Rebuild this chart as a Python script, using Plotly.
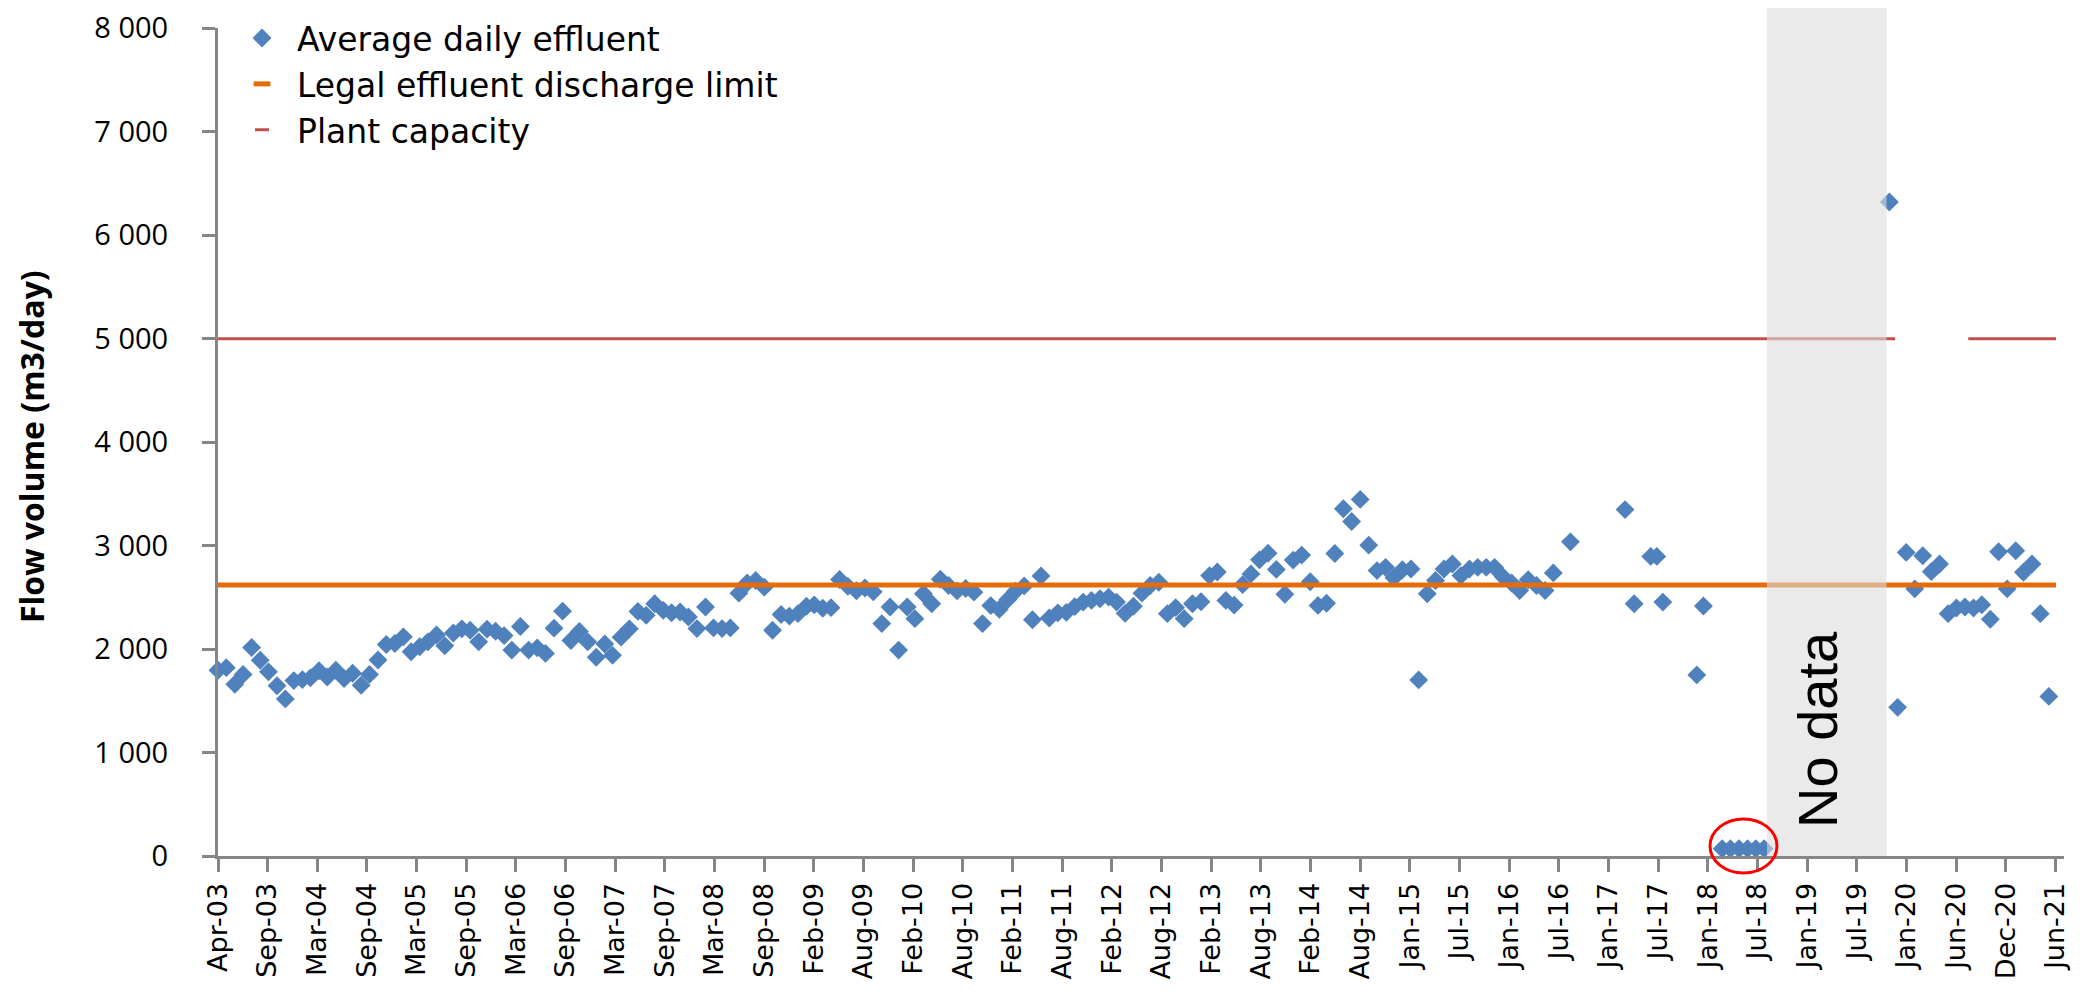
import plotly.graph_objects as go
import pandas as pd

# ---------------- data ----------------
# Monthly average daily effluent, Apr-2003 .. Sep-2016 (None = no point shown)
effluent_2003_2016 = [
    1795, 1820, 1660, 1755, 2015, 1892, 1780, 1645, 1518, 1695,
    1705, 1722, 1790, 1730, 1795, 1715, 1766, 1650, 1755, 1894,
    2044, 2054, 2118, 1974, 2022, 2070, 2137, 2032, 2155, 2195,
    2182, 2070, 2192, 2172, 2130, 1990, 2218, 1990, 2012, 1958,
    2202, 2366, 2083, 2170, 2070, 1921, 2049, 1939, 2115, 2195,
    2364, 2326, 2438, 2374, 2351, 2358, 2310, 2198, 2406, 2204,
    2198, 2204, 2540, 2638, 2662, 2598, 2182, 2334, 2318, 2342,
    2414, 2427, 2394, 2400, 2672, 2606, 2563, 2590, 2553, 2246,
    2406, 1990, 2406, 2294, 2534, 2438, 2675, 2614, 2562, 2585,
    2550, 2246, 2420, 2385, 2480, 2560, 2610, 2283, 2707, 2300,
    2350, 2355, 2410, 2454, 2470, 2486, 2502, 2454, 2345, 2414,
    2540, 2614, 2646, 2342, 2400, 2294, 2438, 2457, 2710, 2745,
    2470, 2425, 2622, 2726, 2862, 2926, 2770, 2530, 2860, 2908,
    2650, 2422, 2443, 2923, 3356, 3233, 3446, 3004, 2758, 2790,
    2690, 2766, 2774, 1702, 2534, 2662, 2774, 2822, 2710, 2774,
    2790, 2790, 2790, 2698, 2638, 2566, 2670, 2614, 2566, 2736,
    None, 3036,
]

# Irregular readings 2017-2018
effluent_2017_2018_dates = [
    "2017-03-18", "2017-04-20", "2017-06-19", "2017-07-11", "2017-08-02",
    "2017-12-03", "2017-12-27",
    "2018-03-05", "2018-04-04", "2018-05-05", "2018-06-05", "2018-07-05", "2018-08-04",
]
effluent_2017_2018 = [3348, 2438, 2895, 2895, 2454, 1750, 2416, 70, 70, 70, 70, 70, 70]

# Monthly readings Nov-2019 .. Jun-2021
effluent_2019_2021 = [
    6320, 1437, 2934, 2582, 2902, 2748, 2822, 2342, 2397, 2406,
    2397, 2428, 2288, 2940, 2582, 2950, 2742, 2822, 2342, 1542,
]

legal_limit_dates = ["2003-04-01", "2021-06-27"]
legal_limit_values = [2620, 2620]

capacity_dates = ["2003-04-01", "2019-11-22", None, "2020-08-13", "2021-06-27"]
capacity_values = [5000, 5000, None, 5000, 5000]

tick_labels = [
    "Apr-03", "Sep-03", "Mar-04", "Sep-04", "Mar-05", "Sep-05", "Mar-06", "Sep-06",
    "Mar-07", "Sep-07", "Mar-08", "Sep-08", "Feb-09", "Aug-09", "Feb-10", "Aug-10",
    "Feb-11", "Aug-11", "Feb-12", "Aug-12", "Feb-13", "Aug-13", "Feb-14", "Aug-14",
    "Jan-15", "Jul-15", "Jan-16", "Jul-16", "Jan-17", "Jul-17", "Jan-18", "Jul-18",
    "Jan-19", "Jul-19", "Jan-20", "Jun-20", "Dec-20", "Jun-21",
]
y_ticks = [0, 1000, 2000, 3000, 4000, 5000, 6000, 7000, 8000]

# ---------------- build ----------------
dates_a = list(pd.date_range("2003-04-01", periods=len(effluent_2003_2016), freq="MS"))
dates_c = [pd.Timestamp("2019-11-01")] + list(
    pd.date_range("2019-12-01", periods=len(effluent_2019_2021) - 1, freq="MS"))
eff_x = dates_a + [pd.Timestamp(d) for d in effluent_2017_2018_dates] + dates_c
eff_y = effluent_2003_2016 + effluent_2017_2018 + effluent_2019_2021

tick_vals = list(pd.date_range("2003-04-01", periods=len(tick_labels), freq="180D"))

BLUE = "#4F81BD"
ORANGE = "#E46C0A"
RED = "#C0504D"
AXIS = "#868686"
FONT = "Open Sans"

fig = go.Figure()

fig.add_trace(go.Scatter(
    x=eff_x, y=eff_y, mode="markers", name="Average daily effluent",
    marker=dict(symbol="diamond", size=14.5, color=BLUE, line=dict(width=0)),
    cliponaxis=False,
))
fig.add_trace(go.Scatter(
    x=legal_limit_dates, y=legal_limit_values, mode="lines", showlegend=False,
    line=dict(color=ORANGE, width=5), hoverinfo="skip",
))
fig.add_trace(go.Scatter(
    x=capacity_dates, y=capacity_values, mode="lines", showlegend=False,
    line=dict(color=RED, width=3), connectgaps=False, hoverinfo="skip",
))
# legend entries (dash symbols like the original)
fig.add_trace(go.Scatter(
    x=[None], y=[None], mode="markers", name="Legal effluent discharge limit",
    marker=dict(symbol="line-ew", size=12, line=dict(color=ORANGE, width=5)),
))
fig.add_trace(go.Scatter(
    x=[None], y=[None], mode="markers", name="Plant capacity",
    marker=dict(symbol="line-ew", size=10, line=dict(color=RED, width=3)),
))

# page has an 8px body margin; figure is sized so the page is 2100x995
W, H = 2084, 979
PL, PR, PT, PB = 218, 2064, 28, 856      # plot area in page pixels
OFF = 8
L, T = PL - OFF, PT - OFF
R = W - (PR - OFF)
B = H - (PB - OFF)
pw = PR - PL
ph = PB - PT

def px_x(p):
    return (p - PL) / pw

def px_y(p):
    return (PB - p) / ph

# No data band
fig.add_shape(type="rect", xref="paper", yref="paper",
              x0=px_x(1767), x1=px_x(1886.5), y0=0, y1=px_y(OFF),
              fillcolor="rgba(220,220,220,0.6)", line=dict(width=0), layer="above")
# red ellipse around zero values
fig.add_shape(type="circle", xref="paper", yref="paper",
              x0=px_x(1710), x1=px_x(1777), y0=px_y(873), y1=px_y(819),
              line=dict(color="#FF0000", width=3), layer="above")

fig.add_annotation(text="No data", xref="paper", yref="paper",
                   x=px_x(1817), y=px_y(730), xanchor="center", yanchor="middle",
                   textangle=-90, showarrow=False,
                   font=dict(family="Liberation Sans", size=56, color="black"))
fig.add_annotation(text="<b>Flow volume (m3/day)</b>", xref="paper", yref="paper",
                   x=px_x(31), y=px_y(447), xanchor="center", yanchor="middle",
                   textangle=-90, showarrow=False,
                   font=dict(family=FONT, size=32, color="black"))

fig.update_layout(
    width=W, height=H, autosize=False,
    margin=dict(l=L, r=R, t=T, b=B, pad=0, autoexpand=False),
    paper_bgcolor="white", plot_bgcolor="white",
    separators=". ",
    font=dict(family=FONT, color="black"),
    showlegend=True,
    legend=dict(x=px_x(227), y=px_y(10), xanchor="left", yanchor="top",
                font=dict(family="DejaVu Sans", size=33, color="black"),
                bgcolor="rgba(0,0,0,0)", itemwidth=60, tracegroupgap=0),
)
fig.update_xaxes(
    type="date", automargin=False, ticklabeloverflow="allow",
    range=["2003-04-01", "2021-07-26"],
    tickmode="array", tickvals=tick_vals, ticktext=tick_labels,
    tickangle=-90, tickfont=dict(family="DejaVu Sans", size=27, color="black"),
    ticks="outside", ticklen=13, tickwidth=3, tickcolor=AXIS,
    showline=True, linecolor=AXIS, linewidth=3,
    showgrid=False, zeroline=False,
)
fig.update_yaxes(
    automargin=False, ticklabeloverflow="allow",
    range=[0, 8002],
    tickmode="array", tickvals=y_ticks, tickformat=",d",
    tickfont=dict(family=FONT, size=29, color="black"),
    ticks="outside", ticklen=13, tickwidth=3, tickcolor=AXIS,
    ticklabelstandoff=28,
    showline=True, linecolor=AXIS, linewidth=3,
    showgrid=False, zeroline=False,
)

fig.write_html("out.html")
